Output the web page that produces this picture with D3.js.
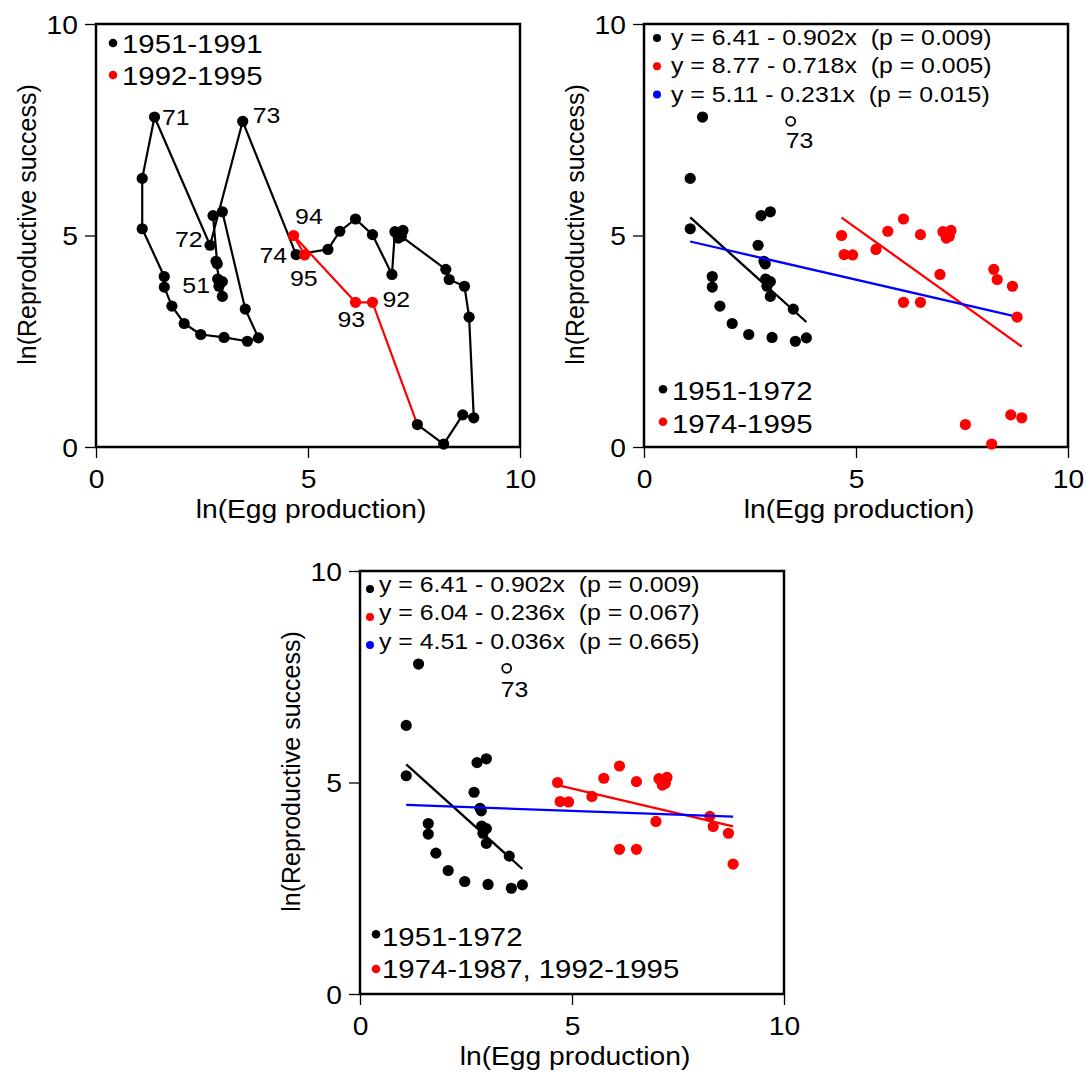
<!DOCTYPE html>
<html><head><meta charset="utf-8">
<script src="https://cdn.jsdelivr.net/npm/d3@7"></script>
<style>
html,body{margin:0;padding:0;background:#fff;}
svg{display:block;}
text{font-family:"Liberation Sans",Arial,Helvetica,sans-serif;fill:#000;white-space:pre;}
</style></head><body>
<svg id="chart" width="1086" height="1074"></svg>
<script>
// ---------------- DATA ----------------
const years = [1951,1952,1953,1954,1955,1956,1957,1958,1959,1960,1961,1962,1963,1964,1965,1966,1967,1968,1969,1970,
  1971,1972,1973,1974,1975,1976,1977,1978,1979,1980,1981,1982,1983,1984,1985,1986,1987,1988,1989,1990,1991,
  1992,1993,1994,1995];
const lnEgg = [2.90,2.98,2.98,2.87,2.92,2.83,2.86,2.76,2.98,3.52,3.83,3.57,3.02,2.47,2.08,1.79,1.61,1.61,1.09,1.09,
  1.38,2.69,3.46,4.72,5.47,5.75,6.12,6.52,6.98,7.05,7.24,7.13,7.20,8.25,8.33,8.69,8.80,8.91,8.65,8.20,7.58,
  6.52,6.12,4.66,4.92];
const lnRepro = [3.80,3.56,3.91,3.97,3.88,4.39,4.33,5.47,5.56,3.26,2.58,2.50,2.59,2.66,2.92,3.33,3.78,4.03,5.16,6.35,
  7.80,4.77,7.70,4.55,4.67,5.10,5.39,5.02,4.08,5.09,5.12,4.94,4.98,4.20,3.96,3.80,3.07,0.69,0.76,0.07,0.53,
  3.42,3.42,5.00,4.54];

const tickValues = [0, 5, 10];
const tickLabels = ["0", "5", "10"];
const xTitle = "ln(Egg production)";
const yTitle = "ln(Reproductive success)";

const panel1Legend = ["1951-1991", "1992-1995"];
const panel1LabeledYears = [1951, 1971, 1972, 1973, 1974, 1992, 1993, 1994, 1995];

const panel2Legend = ["1951-1972", "1974-1995"];
const fit2Intercept = [6.41, 8.77, 5.11];
const fit2Slope = [-0.902, -0.718, -0.231];
const fit2From = [1.09, 4.66, 1.09];
const fit2To = [3.83, 8.91, 8.68];
const fit2Text = ["y = 6.41 - 0.902x  (p = 0.009)", "y = 8.77 - 0.718x  (p = 0.005)", "y = 5.11 - 0.231x  (p = 0.015)"];

const panel3Legend = ["1951-1972", "1974-1987, 1992-1995"];
const fit3Intercept = [6.41, 6.04, 4.51];
const fit3Slope = [-0.902, -0.236, -0.036];
const fit3From = [1.09, 4.66, 1.09];
const fit3To = [3.83, 8.80, 8.80];
const fit3Text = ["y = 6.41 - 0.902x  (p = 0.009)", "y = 6.04 - 0.236x  (p = 0.067)", "y = 4.51 - 0.036x  (p = 0.665)"];
const panel3Excluded = [1988, 1989, 1990, 1991];

// ---------------- STYLE ----------------
const SX = 1.13;
const RED = "#ff0000", BLUE = "#0000ff", BLACK = "#000";
const fitColors = [BLACK, RED, BLUE];
const labelOffsets = {1951:[-9,6.5,"end"],1971:[7.5,8,"start"],1972:[-7.5,2,"end"],1973:[10,1.5,"start"],
  1974:[-9,8,"end"],1992:[10,4.4,"start"],1993:[-18,25,"start"],1994:[1.5,-11.5,"start"],1995:[-14.6,31,"start"]};

const pts = years.map((yr,i)=>({year:yr, e:lnEgg[i], r:lnRepro[i]}));
const svg = d3.select("#chart");

function stext(sel, x, y, str, size, anchor) {
  return sel.append("text")
    .attr("transform", `translate(${x},${y}) scale(${SX},1)`)
    .attr("text-anchor", anchor || "start")
    .style("font-size", size + "px")
    .text(str);
}

function makePanel(left, top) {
  const W = 424, H = 423;
  const g = svg.append("g");
  const x = d3.scaleLinear().domain([0,10]).range([left, left+W]);
  const y = d3.scaleLinear().domain([0,10]).range([top+H, top]);
  const ax = g.append("g").attr("transform", `translate(0,${top+H})`)
    .call(d3.axisBottom(x).tickValues(tickValues).tickFormat((d,i)=>tickLabels[i]).tickSize(11));
  ax.select(".domain").remove();
  ax.selectAll("line").attr("stroke", "#000").attr("stroke-width", 1.3);
  ax.selectAll("text").attr("y", 41).attr("dy", null)
    .attr("transform", `scale(${SX},1)`).style("font-size","25px")
    .style("font-family",'"Liberation Sans",Arial,sans-serif').attr("fill","#000");
  const ay = g.append("g").attr("transform", `translate(${left},0)`)
    .call(d3.axisLeft(y).tickValues(tickValues).tickFormat((d,i)=>tickLabels[i]).tickSize(11));
  ay.select(".domain").remove();
  ay.selectAll("line").attr("stroke", "#000").attr("stroke-width", 1.3);
  ay.selectAll("text").attr("x", -18/SX).attr("dy", "0.36em")
    .attr("transform", `scale(${SX},1)`).style("font-size","25px")
    .style("font-family",'"Liberation Sans",Arial,sans-serif').attr("fill","#000");
  g.append("rect").attr("x", left).attr("y", top).attr("width", W).attr("height", H)
    .attr("fill","none").attr("stroke","#000").attr("stroke-width",2.5);
  stext(g, left + W/2 + 3, top + H + 71, xTitle, 25, "middle");
  g.append("text").attr("transform", `translate(${left-60},${top + H/2 - 11}) rotate(-90)`)
    .attr("text-anchor","middle").style("font-size","25px").text(yTitle);
  const plot = g.append("g");
  return {g: plot, x, y};
}

function drawFits(p, ints, slopes, from, to) {
  ints.forEach((a,i)=>{
    const line = d3.line().x(d=>p.x(d)).y(d=>p.y(a + slopes[i]*d));
    p.g.append("path").attr("d", line([from[i], to[i]]))
      .attr("fill","none").attr("stroke", fitColors[i]).attr("stroke-width", 2.3);
  });
}

function dots(p, data, color, r) {
  p.g.selectAll(null).data(data).enter().append("circle")
    .attr("cx", d=>p.x(d.e)).attr("cy", d=>p.y(d.r)).attr("r", r).attr("fill", color);
}

// ---------------- PANEL 1 ----------------
{
  const p = makePanel(96, 24);
  const lineGen = d3.line().x(d=>p.x(d.e)).y(d=>p.y(d.r));
  const early = pts.filter(d=>d.year<=1991);
  const late = pts.filter(d=>d.year>=1991);
  p.g.append("path").attr("d", lineGen(early)).attr("fill","none").attr("stroke",BLACK).attr("stroke-width",2.2).attr("stroke-linejoin","round");
  p.g.append("path").attr("d", lineGen(late)).attr("fill","none").attr("stroke",RED).attr("stroke-width",2.2).attr("stroke-linejoin","round");
  dots(p, early, BLACK, 5.6);
  dots(p, pts.filter(d=>d.year>=1992), RED, 5.6);
  panel1LabeledYears.forEach(yr=>{
    const d = pts.find(q=>q.year===yr);
    const o = labelOffsets[yr];
    stext(p.g, p.x(d.e)+o[0], p.y(d.r)+o[1], String(yr).slice(2), 22, o[2]);
  });
  const lg = p.g.append("g");
  panel1Legend.forEach((t,i)=>{
    lg.append("circle").attr("cx", 113).attr("cy", 43 + i*32).attr("r", 4.3).attr("fill", i===0?BLACK:RED);
    stext(lg, 122, 52.5 + i*32, t, 26, "start");
  });
}

// ---------------- PANEL 2 ----------------
{
  const p = makePanel(644, 24);
  dots(p, pts.filter(d=>d.year<=1972), BLACK, 5.6);
  dots(p, pts.filter(d=>d.year>=1974), RED, 5.6);
  const d73 = pts.find(d=>d.year===1973);
  p.g.append("circle").attr("cx", p.x(d73.e)).attr("cy", p.y(d73.r)).attr("r", 4.5)
    .attr("fill","#fff").attr("stroke","#000").attr("stroke-width",1.8);
  stext(p.g, p.x(d73.e)-5, p.y(d73.r)+27, "73", 22, "start");
  drawFits(p, fit2Intercept, fit2Slope, fit2From, fit2To);
  fit2Text.forEach((t,i)=>{
    p.g.append("circle").attr("cx", 657).attr("cy", 38 + i*28.2).attr("r", 4).attr("fill", fitColors[i]);
    stext(p.g, 671, 45 + i*28.3, t, 22, "start");
  });
  panel2Legend.forEach((t,i)=>{
    p.g.append("circle").attr("cx", 663).attr("cy", 389.3 + i*32.5).attr("r", 4.3).attr("fill", i===0?BLACK:RED);
    stext(p.g, 672, 400 + i*32.6, t, 26, "start");
  });
}

// ---------------- PANEL 3 ----------------
{
  const p = makePanel(360, 571);
  dots(p, pts.filter(d=>d.year<=1972), BLACK, 5.6);
  dots(p, pts.filter(d=>d.year>=1974 && !panel3Excluded.includes(d.year)), RED, 5.6);
  const d73 = pts.find(d=>d.year===1973);
  p.g.append("circle").attr("cx", p.x(d73.e)).attr("cy", p.y(d73.r)).attr("r", 4.5)
    .attr("fill","#fff").attr("stroke","#000").attr("stroke-width",1.8);
  stext(p.g, p.x(d73.e)-6, p.y(d73.r)+29, "73", 22, "start");
  drawFits(p, fit3Intercept, fit3Slope, fit3From, fit3To);
  fit3Text.forEach((t,i)=>{
    p.g.append("circle").attr("cx", 370).attr("cy", 589 + i*28).attr("r", 4).attr("fill", fitColors[i]);
    stext(p.g, 379, 591.7 + i*28.6, t, 22, "start");
  });
  panel3Legend.forEach((t,i)=>{
    p.g.append("circle").attr("cx", 376).attr("cy", 934.3 + i*34.7).attr("r", 4.3).attr("fill", i===0?BLACK:RED);
    stext(p.g, 382, 945.7 + i*32.6, t, 26, "start");
  });
}
</script>
</body></html>
